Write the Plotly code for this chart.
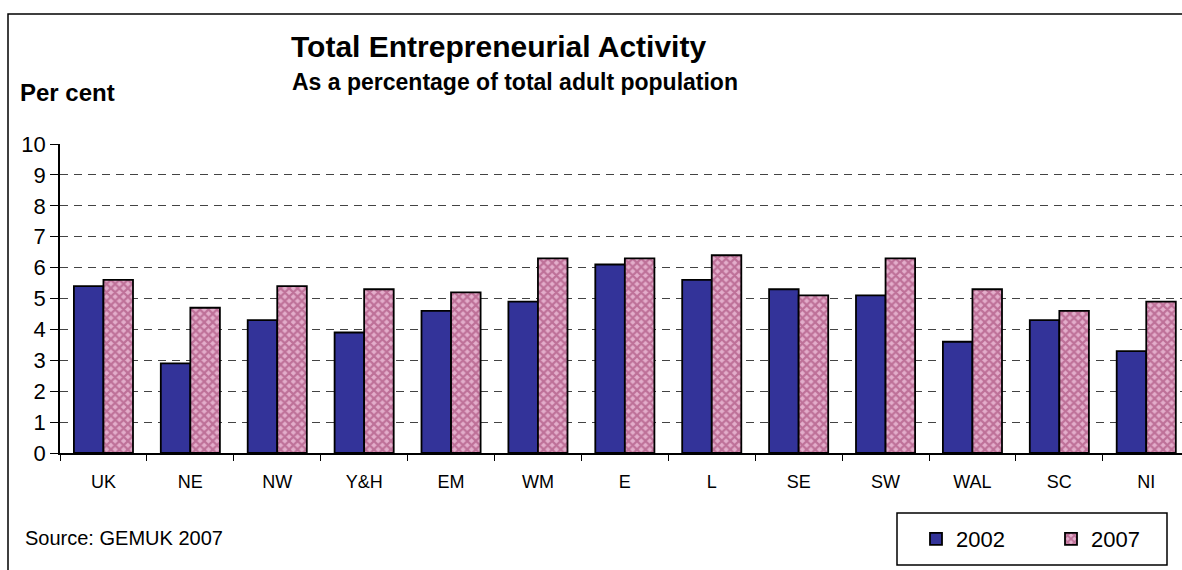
import plotly.graph_objects as go

regions = ["UK", "NE", "NW", "Y&H", "EM", "WM", "E", "L", "SE", "SW", "WAL", "SC", "NI"]
tea_2002 = [5.4, 2.9, 4.3, 3.9, 4.6, 4.9, 6.1, 5.6, 5.3, 5.1, 3.6, 4.3, 3.3]
tea_2007 = [5.6, 4.7, 5.4, 5.3, 5.2, 6.3, 6.3, 6.4, 5.1, 6.3, 5.3, 4.6, 4.9]
y_ticks = list(range(0, 11))

W, H = 1182, 570
L, R, T, B = 60, 0, 144, 117
PW = W - L - R
PH = H - T - B


def px(x):
    return (x - L) / PW


def py(y):
    return (H - B - y) / PH


FONT = "Arial"

fig = go.Figure()
fig.add_trace(go.Bar(
    x=regions, y=tea_2002, name="2002",
    marker=dict(color="#333399", line=dict(color="black", width=1.8)),
))
fig.add_trace(go.Bar(
    x=regions, y=tea_2007, name="2007",
    marker=dict(color="#c77aa5", line=dict(color="black", width=1.8),
                pattern=dict(shape="x", fgcolor="#993366", bgcolor="#e3aecb",
                             size=6, solidity=0.6)),
))

fig.update_layout(
    width=W, height=H,
    margin=dict(l=L, r=R, t=T, b=B, autoexpand=False),
    paper_bgcolor="white", plot_bgcolor="white",
    barmode="group", bargap=0.32, bargroupgap=0,
    font=dict(family=FONT, color="black"),
    showlegend=True,
    legend=dict(orientation="h", x=px(916), y=py(539), xanchor="left", yanchor="middle",
                font=dict(size=22, family=FONT), bgcolor="rgba(0,0,0,0)",
                borderwidth=0, entrywidth=90, entrywidthmode="pixels"),
)

fig.update_xaxes(
    type="category", range=[-0.5, -0.5 + PW / 86.9],
    showline=True, linecolor="black", linewidth=1.5,
    ticks="outside", tickson="boundaries", ticklen=6, tickcolor="black", tickwidth=1,
    showgrid=False, tickfont=dict(size=18, family=FONT), ticklabelstandoff=12,
)
fig.update_yaxes(
    range=[0, 10], tickvals=y_ticks,
    showline=True, linecolor="black", linewidth=1.5,
    ticks="outside", ticklen=8, tickcolor="black", tickwidth=1,
    showgrid=True, gridcolor="#444444", gridwidth=1.3, griddash="8px,6px",
    zeroline=False, tickfont=dict(size=22, family=FONT),
)

shapes = [
    dict(type="rect", xref="paper", yref="paper",
         x0=px(8), x1=px(1200), y0=py(600), y1=py(14),
         line=dict(color="black", width=1.5), fillcolor="rgba(0,0,0,0)", layer="below"),
    dict(type="rect", xref="paper", yref="paper",
         x0=px(897), x1=px(1167), y0=py(565), y1=py(513),
         line=dict(color="black", width=1.5), fillcolor="rgba(0,0,0,0)"),
]
fig.update_layout(shapes=shapes)

annotations = [
    dict(text="<b>Total Entrepreneurial Activity</b>", x=px(498), y=py(46),
         xanchor="center", yanchor="middle", font=dict(size=30, family=FONT)),
    dict(text="<b>As a percentage of total adult population</b>", x=px(515), y=py(82),
         xanchor="center", yanchor="middle", font=dict(size=23, family=FONT)),
    dict(text="<b>Per cent</b>", x=px(18), y=py(92),
         xanchor="left", yanchor="middle", font=dict(size=24, family=FONT)),
    dict(text="Source: GEMUK 2007", x=px(23), y=py(538),
         xanchor="left", yanchor="middle", font=dict(size=20, family=FONT)),
]
for a in annotations:
    a.update(xref="paper", yref="paper", showarrow=False)
fig.update_layout(annotations=annotations)

fig.write_html("out.html", config={"displayModeBar": False},
               post_script="document.body.style.margin='0';document.body.style.overflow='hidden';")
